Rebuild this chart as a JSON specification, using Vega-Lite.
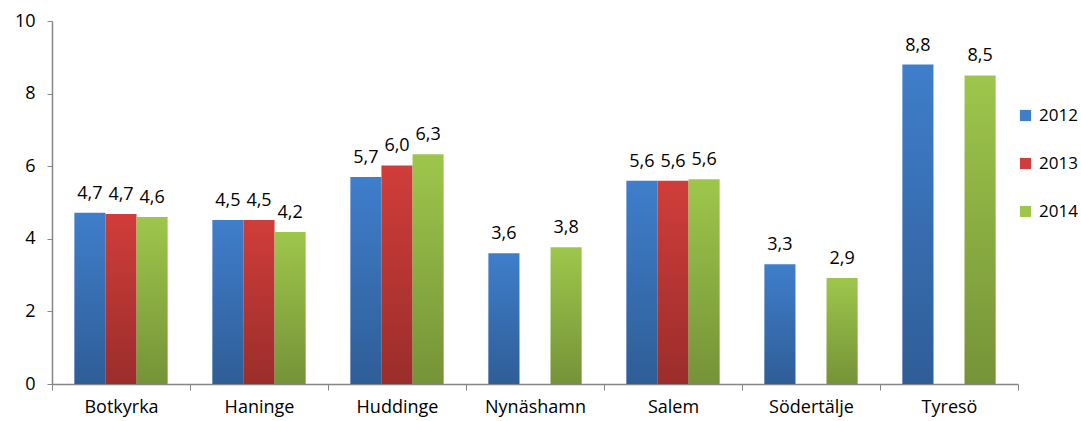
{
  "$schema": "https://vega.github.io/schema/vega-lite/v6.json",
  "autosize": "none",
  "width": 966,
  "height": 363,
  "padding": {"left": 52, "top": 21, "right": 63, "bottom": 37},
  "background": "white",
  "config": {
    "locale": {"number": {"decimal": ",", "thousands": " ", "grouping": [3], "currency": ["", " kr"]}},
    "view": {"stroke": null},
    "font": "Open Sans",
    "axis": {"domainColor": "#868686", "tickColor": "#868686", "labelColor": "#000000", "labelFont": "Open Sans", "labelFontSize": 18, "grid": false, "title": null}
  },
  "data": {
    "values": [
      {"kommun": "Botkyrka", "year": "2012", "value": 4.72},
      {"kommun": "Botkyrka", "year": "2013", "value": 4.68},
      {"kommun": "Botkyrka", "year": "2014", "value": 4.6},
      {"kommun": "Haninge", "year": "2012", "value": 4.52},
      {"kommun": "Haninge", "year": "2013", "value": 4.52},
      {"kommun": "Haninge", "year": "2014", "value": 4.19},
      {"kommun": "Huddinge", "year": "2012", "value": 5.7},
      {"kommun": "Huddinge", "year": "2013", "value": 6.02},
      {"kommun": "Huddinge", "year": "2014", "value": 6.33},
      {"kommun": "Nynäshamn", "year": "2012", "value": 3.6},
      {"kommun": "Nynäshamn", "year": "2014", "value": 3.77},
      {"kommun": "Salem", "year": "2012", "value": 5.6},
      {"kommun": "Salem", "year": "2013", "value": 5.6},
      {"kommun": "Salem", "year": "2014", "value": 5.64},
      {"kommun": "Södertälje", "year": "2012", "value": 3.3},
      {"kommun": "Södertälje", "year": "2014", "value": 2.92},
      {"kommun": "Tyresö", "year": "2012", "value": 8.8},
      {"kommun": "Tyresö", "year": "2014", "value": 8.5}
    ]
  },
  "encoding": {
    "x": {"field": "kommun", "type": "nominal", "sort": null, "scale": {"paddingInner": 0, "paddingOuter": 0},
      "axis": {"labelAngle": 0, "tickBand": "extent", "tickSize": 6, "labelPadding": 8, "domainWidth": 1.5}},
    "xOffset": {"field": "year", "type": "nominal", "scale": {"domain": ["2012", "2013", "2014"], "paddingInner": 0, "paddingOuter": 0.72}},
    "y": {"field": "value", "type": "quantitative", "scale": {"domain": [0, 10], "nice": false},
      "axis": {"values": [0, 2, 4, 6, 8, 10], "tickSize": 5, "labelPadding": 12, "domainWidth": 1.5}}
  },
  "layer": [
    {
      "mark": {"type": "bar"},
      "encoding": {
        "color": {"field": "year", "type": "nominal",
          "scale": {"domain": ["2012", "2013", "2014"], "range": ["#3f7ecb", "#d03d3a", "#9ec64b"]},
          "legend": {"title": null, "orient": "none", "legendX": 965, "legendY": 86, "padding": 0, "symbolType": "square", "symbolSize": 125, "symbolStrokeWidth": 0, "labelFontSize": 17, "labelFont": "Open Sans", "labelColor": "#000000", "rowPadding": 30, "labelOffset": 5}}
      }
    },
    {
      "mark": {"type": "bar", "fill": {"gradient": "linear", "x1": 0, "y1": 0, "x2": 0, "y2": 1,
        "stops": [{"offset": 0, "color": "rgba(0,0,0,0)"}, {"offset": 1, "color": "rgba(0,0,0,0.26)"}]}}
    },
    {
      "mark": {"type": "text", "baseline": "bottom", "dy": -10, "fontSize": 18, "font": "Open Sans", "color": "#000000"},
      "encoding": {"text": {"field": "value", "type": "quantitative", "format": ".1f"}}
    }
  ]
}
